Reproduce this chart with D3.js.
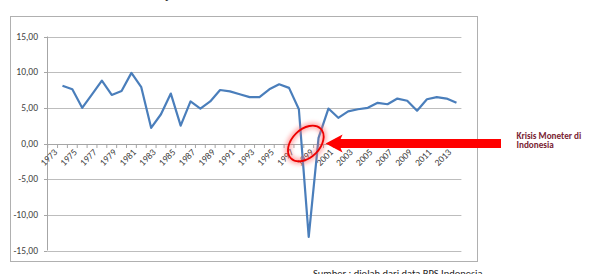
<!DOCTYPE html>
<html lang="id">
<head>
<meta charset="UTF-8">
<title>Pertumbuhan Ekonomi Indonesia</title>
<script src="https://d3js.org/d3.v7.min.js"></script>
<style>
    html, body {margin: 0; padding: 0; background: #fff; overflow: hidden}
    svg {display: block}
    text {font-family: Carlito, Lato, "Open Sans", sans-serif}
</style>
</head>
<body>
<svg id="chart" width="594" height="274"></svg>
<script>
// data: pertumbuhan PDB (%) per tahun, 1973 kosong
const years = d3.range(1973, 2015);
const growth = [null,
    8.1, 7.6, 5.0, 6.9, 8.8, 6.8, 7.35, 9.9, 7.9, 2.2,
    4.1, 7.0, 2.5, 5.9, 4.9, 5.9, 7.5, 7.3, 6.9, 6.5,
    6.5, 7.6, 8.3, 7.8, 4.8, -13.1, 0.8, 4.9, 3.6, 4.5,
    4.8, 5.0, 5.7, 5.5, 6.3, 6.0, 4.6, 6.2, 6.5, 6.3,
    5.7];
const yTicks = [-15, -10, -5, 0, 5, 10, 15];
const xLabels = years.filter((d, i) => i % 2 === 0);
const titleText = "Grafik Laju Pertumbuhan Ekonomi Indonesia Tahun 1974 - 2014";
const noteText = ["Krisis Moneter di", "Indonesia"];
const sourceText = "Sumber : diolah dari data BPS Indonesia";

const svg = d3.select("#chart");
const loc = d3.formatLocale({decimal: ",", thousands: ".", grouping: [3], currency: ["Rp", ""], minus: "-"});
const fmt = loc.format(".2f");

const x = d3.scaleBand().domain(years).range([47.7, 461.4]);
const y = d3.scaleLinear().domain([-15, 15]).range([250.5, 36.5]);
const cx = d => x(d) + x.bandwidth() / 2;

// glow filter
const defs = svg.append("defs");
const f = defs.append("filter").attr("id", "glow").attr("x", "-50%").attr("y", "-50%").attr("width", "200%").attr("height", "200%");
f.append("feGaussianBlur").attr("stdDeviation", 2.2);

// title (cut off at the top, only descenders show)
svg.append("text").attr("x", 280).attr("y", -1.5)
    .attr("text-anchor", "middle").attr("font-size", 12).attr("font-weight", "bold")
    .attr("fill", "#333").text(titleText);

// chart frame
svg.append("rect").attr("x", 10.5).attr("y", 16.5).attr("width", 467).attr("height", 245)
    .attr("fill", "#fff").attr("stroke", "#b0b0b0").attr("stroke-width", 1);

// gridlines
svg.append("g").selectAll("line").data(yTicks.filter(d => d !== 0)).join("line")
    .attr("x1", x.range()[0]).attr("x2", x.range()[1])
    .attr("y1", d => Math.round(y(d)) + 0.5).attr("y2", d => Math.round(y(d)) + 0.5)
    .attr("stroke", "#bdbdbd").attr("stroke-width", 1);

// y axis
svg.append("line").attr("x1", 47.5).attr("x2", 47.5).attr("y1", y(15)).attr("y2", y(-15))
    .attr("stroke", "#a6a6a6");
svg.append("g").selectAll("line").data(yTicks).join("line")
    .attr("x1", 44).attr("x2", 47.5)
    .attr("y1", d => Math.round(y(d)) + 0.5).attr("y2", d => Math.round(y(d)) + 0.5)
    .attr("stroke", "#a6a6a6");
svg.append("g").selectAll("text").data(yTicks).join("text")
    .attr("x", 38).attr("y", d => y(d)).attr("dy", "0.35em")
    .attr("text-anchor", "end").attr("font-size", 9.5).attr("fill", "#404040")
    .text(d => fmt(d));

// x axis at 0
const y0 = Math.round(y(0)) + 0.5;
svg.append("line").attr("x1", x.range()[0]).attr("x2", x.range()[1]).attr("y1", y0).attr("y2", y0)
    .attr("stroke", "#a6a6a6");
svg.append("g").selectAll("line").data(years.concat([null])).join("line")
    .attr("x1", (d, i) => x.range()[0] + i * x.step()).attr("x2", (d, i) => x.range()[0] + i * x.step())
    .attr("y1", y0).attr("y2", y0 + 3.5)
    .attr("stroke", "#a6a6a6");
svg.append("g").selectAll("text").data(xLabels).join("text")
    .attr("transform", d => `translate(${cx(d) + 3},${y0 + 6}) rotate(-45)`)
    .attr("text-anchor", "end").attr("dy", "0.35em")
    .attr("font-size", 9.5).attr("fill", "#404040")
    .text(d => d);

// the series
const pts = years.map((d, i) => ({year: d, v: growth[i]})).filter(d => d.v !== null);
svg.append("path").datum(pts)
    .attr("d", d3.line().x(d => cx(d.year)).y(d => y(d.v)))
    .attr("fill", "none").attr("stroke", "#4a7ebb").attr("stroke-width", 2.2)
    .attr("stroke-linejoin", "round");

// annotation: circle around the crisis
const ex = (cx(1998) + cx(1999)) / 2 + 2, ey = y(0);
const eg = svg.append("g").attr("transform", `translate(${ex},${ey}) rotate(-45)`);
eg.append("ellipse").attr("rx", 21).attr("ry", 14).attr("fill", "none")
    .attr("stroke", "#ff6a6a").attr("stroke-width", 6).attr("opacity", 0.55).attr("filter", "url(#glow)");
eg.append("ellipse").attr("rx", 21).attr("ry", 14).attr("fill", "none")
    .attr("stroke", "#ee0000").attr("stroke-width", 1.8);

// arrow
const tipX = cx(2000) + 7, tipY = y(0);
const arrow = [[tipX, tipY], [tipX + 17, tipY - 9], [tipX + 15, tipY - 4.5], [501, tipY - 4.5],
    [501, tipY + 4.5], [tipX + 15, tipY + 4.5], [tipX + 17, tipY + 9]];
svg.append("path").attr("d", d3.line()(arrow) + "Z").attr("fill", "#ff0000");

// note
svg.append("g").selectAll("text").data(noteText).join("text")
    .attr("x", 516.5).attr("y", (d, i) => 138.5 + i * 9.5)
    .attr("font-size", 9.2).attr("font-weight", "bold").attr("fill", "#7a2433")
    .text(d => d);

// source
svg.append("text").attr("x", 313).attr("y", 276.5)
    .attr("font-size", 10.5).attr("fill", "#222").text(sourceText);
</script>
</body>
</html>
